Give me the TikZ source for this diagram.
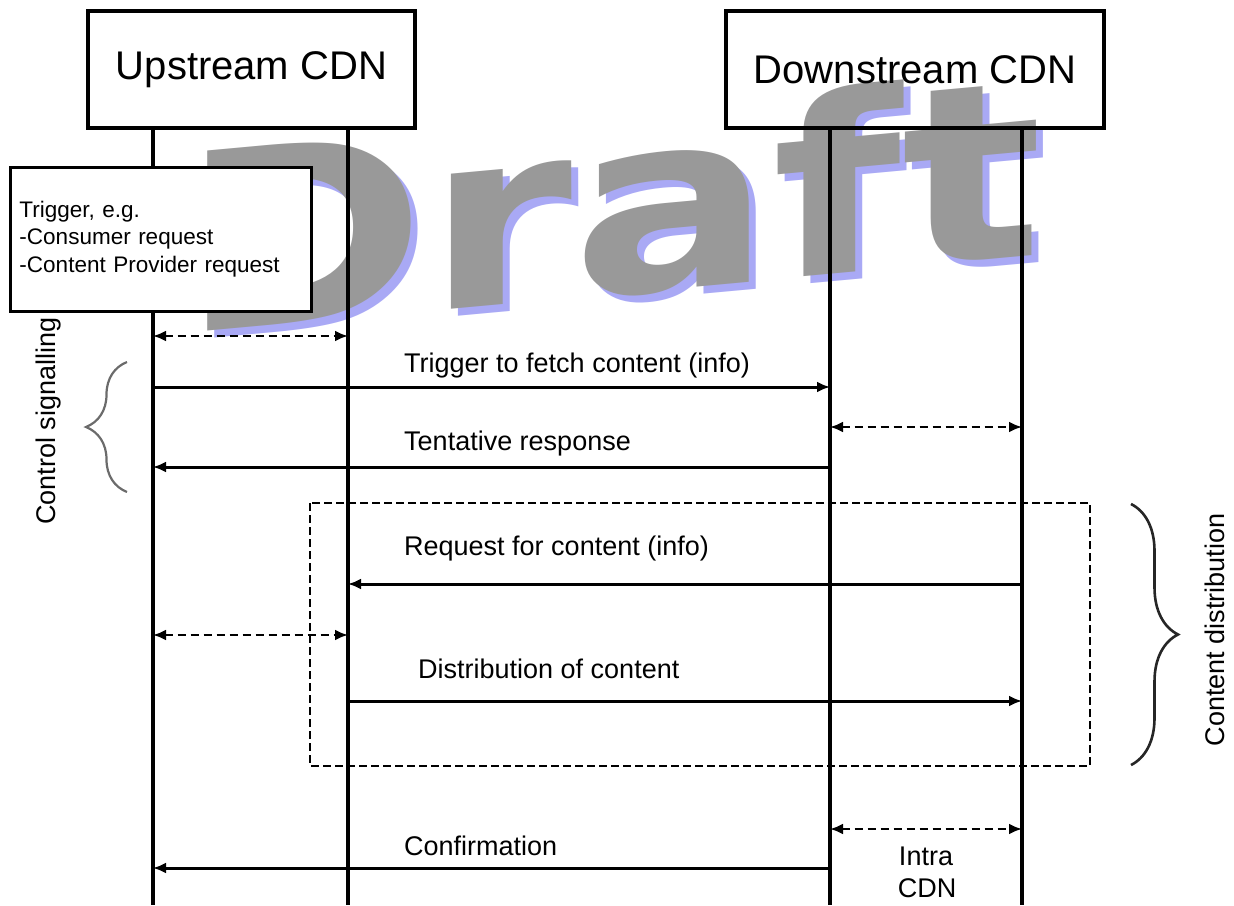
\documentclass[tikz,border=0pt]{standalone}
\usepackage{fontspec}
\setmainfont{Liberation Sans}
\newfontfamily\draftfont{DejaVu Sans}
\usetikzlibrary{arrows.meta, decorations.pathreplacing}
\definecolor{draftgray}{HTML}{999999}
\definecolor{draftblue}{HTML}{A9A9F5}

\begin{document}
\begin{tikzpicture}[%
        x = 1pt, y = -1pt,
        cdn box/.style = {%
          draw = black,
          line width = 3.4pt,
          minimum height = 117pt,
          inner sep = 0pt,
          font = \fontsize{40}{44}\selectfont,
        },
        life line/.style = {line width = 3.2pt},
        msg/.style = {line width = 3pt, -{Latex[length=13pt, width=11pt]}},
        local msg/.style = {%
          line width = 2.8pt,
          dash pattern = on 8pt off 5pt,
          {Latex[length=13pt, width=11pt]}-{Latex[length=13pt, width=11pt]},
        },
        msg label/.style = {anchor = base west, inner sep = 0pt, font = \fontsize{27}{30}\selectfont},
        side label/.style = {anchor = base, rotate = 90, inner sep = 0pt, font = \fontsize{27}{30}\selectfont},
        draft text/.style = {%
          anchor = base west,
          inner sep = 0pt,
          font = \draftfont\bfseries\fontsize{247}{247}\selectfont,
          xscale = 1.2,
          yslant = 0.11,
          transform shape,
        },
      ]
      \useasboundingbox (0,0) rectangle (1234,905);

      % watermark
      \node[draft text, text=draftblue] (draft shadow) at (187,341) {Draft};
      \node[draft text, text=draftgray] (draft)        at (180,334) {Draft};

      % the two CDNs
      \node[cdn box, minimum width=327pt] (up box)   at (251.5,69.5) {Upstream CDN};
      \node[cdn box, minimum width=378pt] (down box) at (915,69.5)   {Downstream CDN};

      \coordinate (ua) at (153,128);
      \coordinate (ub) at (348,128);
      \coordinate (da) at (830,128);
      \coordinate (db) at (1022,128);
      \draw[life line] (ua) -- (ua |- 0,905);
      \draw[life line] (ub) -- (ub |- 0,905);
      \draw[life line] (da) -- (da |- 0,905);
      \draw[life line] (db) -- (db |- 0,905);

      \node[draw, line width=3pt, fill=white, minimum width=301pt, minimum height=144pt,
            align=left, text width=282pt, font=\fontsize{22.5}{27.5}\selectfont] (trigger) at (160.5,239)
        {Trigger, e.g.\\-Consumer request\\-Content Provider request};

      % content distribution part
      \draw[line width=2.6pt, dash pattern=on 8pt off 4pt] (310,503) rectangle (1090,766);

      % messages
      \draw[local msg] (ua |- 0,336) -- (ub |- 0,336);
      \draw[msg] (ua |- 0,387) -- (da |- 0,387);
      \node[msg label] (l trigger) at (404,372) {Trigger to fetch content (info)};
      \draw[local msg] (da |- 0,427) -- (db |- 0,427);
      \draw[msg] (da |- 0,467) -- (ua |- 0,467);
      \node[msg label] (l tentative) at (404,450) {Tentative response};
      \draw[msg] (db |- 0,584) -- (ub |- 0,584);
      \node[msg label] (l request) at (404,555) {Request for content (info)};
      \draw[local msg] (ua |- 0,635) -- (ub |- 0,635);
      \draw[msg] (ub |- 0,701) -- (db |- 0,701);
      \node[msg label] (l distribution) at (418,678) {Distribution of content};
      \draw[local msg] (da |- 0,829) -- (db |- 0,829);
      \node[msg label, anchor=base] (l intra) at (926,865) {Intra};
      \node[msg label, anchor=base] (l cdn)   at (927,897) {CDN};
      \draw[msg] (da |- 0,868) -- (ua |- 0,868);
      \node[msg label] (l confirmation) at (404,855) {Confirmation};

      % phases
      \draw[draftgray!70!black, line width=2.2pt, decorate, decoration={brace, amplitude=41pt}]
        (127,492) -- (127,362);
      \node[side label] (l control) at (55,421) {Control signalling};
      \draw[black!85, line width=2.6pt, decorate, decoration={brace, amplitude=47pt}]
        (1131,504) -- (1131,765);
      \node[side label] (l content) at (1224,630) {Content distribution};
    \end{tikzpicture}
\end{document}
